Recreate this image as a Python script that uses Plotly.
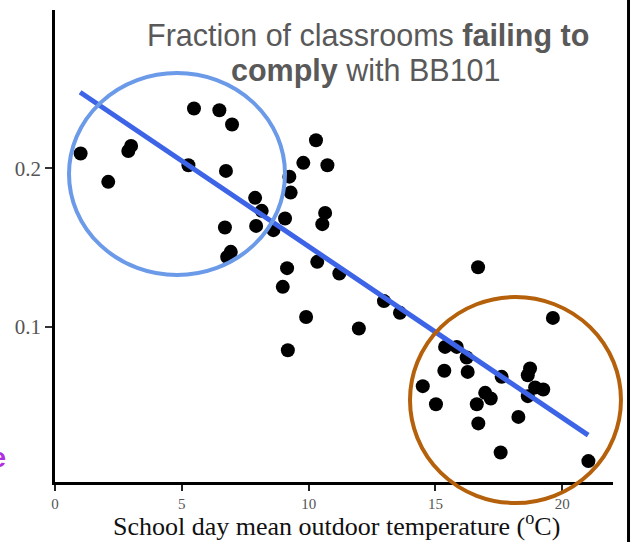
import plotly.graph_objects as go

# ---- data ----
temp = [1.01, 2.10, 2.89, 3.00, 5.48, 6.48, 6.98, 5.26, 6.74, 6.70, 6.93, 6.79,
        7.89, 8.15, 7.93, 8.61, 9.07, 9.24, 9.29, 9.79, 10.29, 10.74, 10.65, 10.54,
        9.15, 8.98, 9.90, 9.18, 10.34, 11.21, 11.98, 12.97, 13.60, 16.68, 19.63,
        15.38, 15.84, 16.23, 15.35, 16.27, 14.50, 15.02, 17.61, 18.73, 18.64,
        16.96, 17.18, 16.63, 18.93, 19.25, 18.64, 16.69, 18.27, 17.57, 21.03]
frac = [0.2094, 0.1915, 0.2110, 0.2142, 0.2378, 0.2367, 0.2277, 0.2020, 0.1984,
        0.1627, 0.1473, 0.1441, 0.1814, 0.1732, 0.1637, 0.1610, 0.1684, 0.1948,
        0.1847, 0.2035, 0.2178, 0.2020, 0.1719, 0.1648, 0.1370, 0.1252, 0.1062,
        0.0852, 0.1410, 0.1336, 0.0989, 0.1162, 0.1088, 0.1376, 0.1056, 0.0873,
        0.0873, 0.0806, 0.0722, 0.0715, 0.0625, 0.0511, 0.0684, 0.0737, 0.0694,
        0.0583, 0.0547, 0.0511, 0.0617, 0.0604, 0.0562, 0.0390, 0.0431, 0.0206,
        0.0152]
fit_x = [0.99, 21.02]
fit_y = [0.2481, 0.0316]
x_ticks = [0, 5, 10, 15, 20]
y_ticks = [0.1, 0.2]
y_tick_labels = ["0.1", "0.2"]

fig = go.Figure()
fig.add_trace(go.Scatter(x=temp, y=frac, mode="markers",
                         marker=dict(color="black", size=14, line=dict(width=0)),
                         showlegend=False, cliponaxis=False))
fig.add_trace(go.Scatter(x=fit_x, y=fit_y, mode="lines",
                         line=dict(color="#3d64e6", width=5),
                         showlegend=False))

serif = "Liberation Serif"
fig.update_layout(
    width=633, height=542,
    margin=dict(l=55, r=20, t=10, b=60),
    paper_bgcolor="white", plot_bgcolor="white",
    xaxis=dict(range=[0, 22], tickvals=x_ticks, showgrid=False, zeroline=False,
               showline=True, linecolor="black", linewidth=2.5,
               ticks="outside", ticklen=6, tickwidth=1.5, tickcolor="#222",
               tickfont=dict(family=serif, size=15, color="#555")),
    yaxis=dict(range=[0.002, 0.300], tickvals=y_ticks, ticktext=y_tick_labels,
               showgrid=False, zeroline=False,
               showline=True, linecolor="black", linewidth=2.5,
               ticks="outside", ticklen=7, tickwidth=1.5, tickcolor="#333",
               tickfont=dict(family=serif, size=21, color="#555")),
    shapes=[
        dict(type="circle", xref="paper", yref="paper",
             x0=0.0251, x1=0.4122, y0=0.4386, y1=0.8665,
             line=dict(color="#6b9ae8", width=4)),
        dict(type="circle", xref="paper", yref="paper",
             x0=0.6362, x1=1.0143, y0=-0.0445, y1=0.3919,
             line=dict(color="#b5600b", width=4)),
        dict(type="line", xref="paper", yref="paper",
             x0=1.0278, x1=1.0278, y0=-0.13, y1=1.03,
             line=dict(color="black", width=3)),
    ],
    annotations=[
        dict(text="Fraction of classrooms <b>failing to</b>", xref="paper", yref="paper",
             x=0.561, y=0.945, xanchor="center", yanchor="middle", showarrow=False,
             font=dict(family="Liberation Sans", size=30.5, color="#595959")),
        dict(text="<b>comply</b> with BB101", xref="paper", yref="paper",
             x=0.5565, y=0.872, xanchor="center", yanchor="middle", showarrow=False,
             font=dict(family="Liberation Sans", size=30.5, color="#595959")),
        dict(text="School day mean outdoor temperature (<sup>o</sup>C)",
             xref="paper", yref="paper", x=0.505, y=-0.09,
             xanchor="center", yanchor="middle", showarrow=False,
             font=dict(family=serif, size=26, color="#111")),
        dict(text="<b>e</b>", xref="paper", yref="paper", x=-0.0842, y=0.0508,
             xanchor="right", yanchor="middle", showarrow=False,
             font=dict(family="Liberation Sans", size=27, color="#b12ee0")),
    ],
)

fig.write_html("out.html")
